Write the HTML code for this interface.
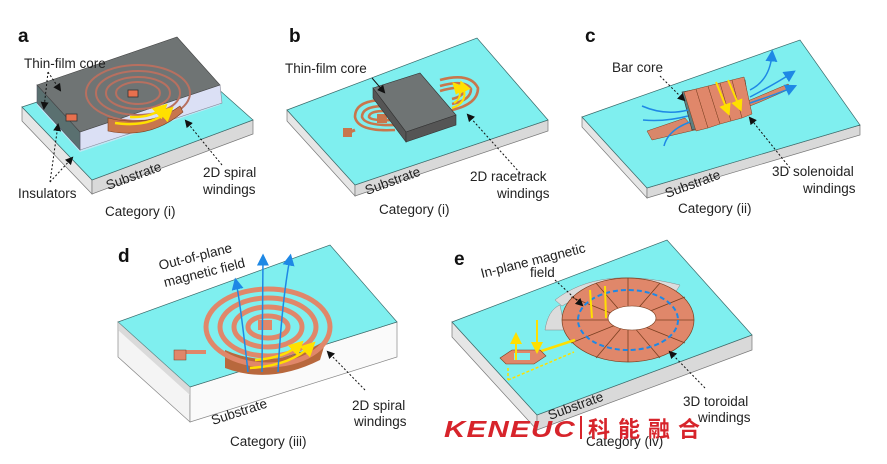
<!DOCTYPE html>
<html><head><meta charset="utf-8"><style>
html,body{margin:0;padding:0;background:#fff;}
svg{display:block;font-family:"Liberation Sans",Arial,sans-serif;}
.lbl{font-size:13.5px;fill:#222;}
.big{font-size:19px;font-weight:bold;fill:#111;}
.dash{stroke:#111;stroke-width:1;stroke-dasharray:2,2;fill:none;}
</style></head><body>
<svg width="887" height="464" viewBox="0 0 887 464">
<defs>
<marker id="ah" markerWidth="8" markerHeight="8" refX="6" refY="4" orient="auto"><path d="M0,0 L8,4 L0,8z" fill="#111"/></marker>
<marker id="bh" markerWidth="8" markerHeight="8" refX="5" refY="4" orient="auto"><path d="M0,0 L8,4 L0,8z" fill="#1e88e5"/></marker>
<marker id="yh" markerWidth="6" markerHeight="6" refX="4" refY="3" orient="auto"><path d="M0,0 L6,3 L0,6z" fill="#ffe000"/></marker>
</defs>

<!-- ===== Panel a ===== -->
<polygon points="22,107 92,180 92,194 22,121" fill="#e6e6e6" stroke="#777" stroke-width="0.7"/>
<polygon points="92,180 253,120 253,134 92,194" fill="#d9d9d9" stroke="#777" stroke-width="0.7"/>
<polygon points="22,107 180,55 253,120 92,180" fill="#7fefef" stroke="#3a6a6a" stroke-width="0.7"/>
<polygon points="37,85 80,132 220,85 220,105 80,152 37,105" fill="#cfe6f5" opacity="0.8"/>
<polygon points="80,132 220,85 222,103 80,150" fill="#dbe0f5" stroke="#889" stroke-width="0.6"/>
<polygon points="37,85 80,132 80,150 37,103" fill="#5a7070" stroke="#556" stroke-width="0.6"/>
<polygon points="37,85 177,37 220,85 80,132" fill="#6f7474" stroke="#444" stroke-width="0.6"/>
<g fill="none" stroke="#b77060" stroke-width="2">
<ellipse cx="138" cy="93" rx="52" ry="28"/><ellipse cx="138" cy="93" rx="42" ry="22"/><ellipse cx="138" cy="93" rx="32" ry="16"/><ellipse cx="138" cy="93" rx="22" ry="11"/>
</g>
<path d="M108,118 Q150,128 180,106 L183,112 Q150,140 108,131z" fill="#c8764c" stroke="#7a3f20" stroke-width="0.6"/>
<path d="M115,123 Q150,128 170,110" stroke="#ffe000" stroke-width="2.5" fill="none" marker-end="url(#yh)"/>
<path d="M130,117 Q152,118 164,107" stroke="#ffe000" stroke-width="2.5" fill="none" marker-end="url(#yh)"/>
<rect x="128" y="90" width="10" height="7" fill="#e8704e" stroke="#333" stroke-width="0.8"/>
<rect x="66" y="114" width="11" height="7" fill="#e8704e" stroke="#333" stroke-width="0.8"/>
<text x="18" y="42" class="big">a</text>
<text x="24" y="68" class="lbl">Thin-film core</text>
<path d="M48,72 L60,90" class="dash" marker-end="url(#ah)"/>
<path d="M48,72 L44,108" class="dash" marker-end="url(#ah)"/>
<path d="M50,182 L58,125" class="dash" marker-end="url(#ah)"/>
<path d="M50,182 L72,158" class="dash" marker-end="url(#ah)"/>
<text x="18" y="198" class="lbl">Insulators</text>
<text x="108" y="190" class="lbl" transform="rotate(-20 108 190)">Substrate</text>
<text x="203" y="177" class="lbl">2D spiral</text>
<text x="203" y="194" class="lbl">windings</text>
<path d="M222,165 L186,121" class="dash" marker-end="url(#ah)"/>
<text x="105" y="216" class="lbl">Category (i)</text>

<!-- ===== Panel b ===== -->
<polygon points="287,110 355,185 355,196 287,121" fill="#e6e6e6" stroke="#777" stroke-width="0.7"/>
<polygon points="355,185 548,120 548,131 355,196" fill="#d9d9d9" stroke="#777" stroke-width="0.7"/>
<polygon points="287,110 477,38 548,120 355,185" fill="#7fefef" stroke="#3a6a6a" stroke-width="0.7"/>
<g fill="none" stroke="#c8764c" stroke-width="2.6">
<path d="M385,100 Q355,100 355,117 Q358,132 395,130"/><path d="M385,106 Q362,106 362,117 Q365,126 395,125"/><path d="M385,111 Q369,111 369,117 Q371,121 395,120"/>
<path d="M440,80 Q470,72 478,88 Q478,104 452,110"/><path d="M440,86 Q465,79 471,89 Q471,100 452,104"/><path d="M440,91 Q460,85 464,90 Q464,96 452,99"/>
</g>
<line x1="355" y1="130" x2="350" y2="132" stroke="#c8764c" stroke-width="3"/>
<rect x="343" y="128" width="9" height="9" fill="#c8764c"/>
<rect x="377" y="114" width="10" height="9" fill="#c8764c"/>
<polygon points="373,88 420,73 456,115 406,132" fill="#6f7474" stroke="#333" stroke-width="0.6"/>
<polygon points="373,88 406,132 406,142 373,98" fill="#555" stroke="#333" stroke-width="0.6"/>
<polygon points="406,132 456,115 456,125 406,142" fill="#555" stroke="#333" stroke-width="0.6"/>
<path d="M452,108 Q470,102 462,84" stroke="#ffe000" stroke-width="2" fill="none" marker-end="url(#yh)"/>
<path d="M454,103 Q465,96 455,85" stroke="#ffe000" stroke-width="2" fill="none" marker-end="url(#yh)"/>
<text x="289" y="42" class="big">b</text>
<text x="285" y="73" class="lbl">Thin-film core</text>
<path d="M372,78 L384,92" stroke="#111" fill="none" marker-end="url(#ah)"/>
<path d="M520,173 L468,115" class="dash" marker-end="url(#ah)"/>
<text x="470" y="181" class="lbl">2D racetrack</text>
<text x="497" y="198" class="lbl">windings</text>
<text x="367" y="195" class="lbl" transform="rotate(-20 367 195)">Substrate</text>
<text x="379" y="214" class="lbl">Category (i)</text>

<!-- ===== Panel c ===== -->
<polygon points="582,117 647,188 647,198 582,127" fill="#e6e6e6" stroke="#777" stroke-width="0.7"/>
<polygon points="647,188 860,125 860,135 647,198" fill="#d9d9d9" stroke="#777" stroke-width="0.7"/>
<polygon points="582,117 800,40 860,125 647,188" fill="#7fefef" stroke="#3a6a6a" stroke-width="0.7"/>
<polygon points="647,131 685,118 690,124 755,98 788,84 792,88 760,102 705,124 695,130 652,140" fill="#d9876a" stroke="#7a3f20" stroke-width="0.5"/>
<polygon points="682,92 745,80 750,112 692,130" fill="#5c7f80" stroke="#333" stroke-width="0.6"/>
<g fill="#e0876a" stroke="#7a3f20" stroke-width="0.5">
<polygon points="684,92 696,89 708,128 696,131"/><polygon points="696,89 708,86 720,124 708,128"/>
<polygon points="708,86 720,83 731,121 720,124"/><polygon points="720,83 732,80 742,118 731,121"/>
<polygon points="732,80 744,77 752,114 742,118"/>
</g>
<path d="M716,82 L728,112" stroke="#ffe000" stroke-width="2" marker-end="url(#yh)"/>
<path d="M728,80 L740,108" stroke="#ffe000" stroke-width="2" marker-end="url(#yh)"/>
<g stroke="#1e88e5" stroke-width="1.5" fill="none">
<path d="M750,90 Q770,80 772,54" marker-end="url(#bh)"/>
<path d="M750,97 Q775,84 792,73" marker-end="url(#bh)"/>
<path d="M750,103 Q780,93 793,87" marker-end="url(#bh)"/>
<path d="M688,110 Q665,116 642,106"/><path d="M688,116 Q665,122 643,120"/><path d="M690,122 Q668,130 664,146"/>
</g>
<text x="585" y="42" class="big">c</text>
<text x="612" y="72" class="lbl">Bar core</text>
<path d="M660,76 L684,100" class="dash" marker-end="url(#ah)"/>
<path d="M790,168 L750,118" class="dash" marker-end="url(#ah)"/>
<text x="772" y="176" class="lbl">3D solenoidal</text>
<text x="803" y="193" class="lbl">windings</text>
<text x="667" y="198" class="lbl" transform="rotate(-20 667 198)">Substrate</text>
<text x="678" y="213" class="lbl">Category (ii)</text>

<!-- ===== Panel d ===== -->
<polygon points="118,322 190,387 190,422 118,357" fill="#f4f4f4" stroke="#888" stroke-width="0.7"/>
<polygon points="190,387 397,322 397,357 190,422" fill="#fafafa" stroke="#888" stroke-width="0.7"/>
<polygon points="118,322 330,245 397,322 190,387" fill="#7fefef" stroke="#3a6a6a" stroke-width="0.7"/>
<polygon points="118,322 190,387 190,395 118,330" fill="#cfcfcf" opacity="0.7"/>
<path d="M225,368 Q270,385 320,360 L326,340 Q275,372 225,350z" fill="#b8683d"/>
<g fill="none" stroke="#e0876a" stroke-width="5">
<ellipse cx="268" cy="327" rx="62" ry="38"/><ellipse cx="268" cy="327" rx="48" ry="29"/><ellipse cx="268" cy="327" rx="34" ry="20"/><ellipse cx="268" cy="327" rx="20" ry="11"/>
</g>
<rect x="258" y="320" width="14" height="10" fill="#e0876a"/>
<path d="M206,352 L180,352" stroke="#e0876a" stroke-width="4"/>
<rect x="174" y="350" width="12" height="10" fill="#e0876a" stroke="#7a3f20" stroke-width="0.5"/>
<path d="M250,368 Q290,366 312,345" stroke="#ffe000" stroke-width="2.5" fill="none" marker-end="url(#yh)"/>
<path d="M255,360 Q285,358 300,344" stroke="#ffe000" stroke-width="2.5" fill="none" marker-end="url(#yh)"/>
<g stroke="#1e88e5" stroke-width="1.5" fill="none">
<path d="M262,372 L263,258" marker-end="url(#bh)"/>
<path d="M248,372 Q240,300 236,282" marker-end="url(#bh)"/>
<path d="M278,372 Q282,300 290,258" marker-end="url(#bh)"/>
</g>
<text x="118" y="262" class="big">d</text>
<text x="160" y="270" class="lbl" transform="rotate(-14 160 270)">Out-of-plane</text>
<text x="165" y="287" class="lbl" transform="rotate(-14 165 287)">magnetic field</text>
<path d="M365,390 L328,352" class="dash" marker-end="url(#ah)"/>
<text x="352" y="410" class="lbl">2D spiral</text>
<text x="354" y="426" class="lbl">windings</text>
<text x="213" y="425" class="lbl" transform="rotate(-18 213 425)">Substrate</text>
<text x="230" y="446" class="lbl">Category (iii)</text>

<!-- ===== Panel e ===== -->
<polygon points="452,322 537,415 537,430 452,337" fill="#e6e6e6" stroke="#777" stroke-width="0.7"/>
<polygon points="537,415 752,335 752,350 537,430" fill="#d9d9d9" stroke="#777" stroke-width="0.7"/>
<polygon points="452,322 667,240 752,335 537,415" fill="#7fefef" stroke="#3a6a6a" stroke-width="0.7"/>
<path d="M555,300 Q600,265 680,285 L675,293 Q610,275 562,306z" fill="#dcdcdc" stroke="#888" stroke-width="0.5"/>
<path d="M545,330 Q548,310 560,305 L565,330z" fill="#dcdcdc" stroke="#888" stroke-width="0.5"/>
<ellipse cx="628" cy="320" rx="66" ry="42" fill="#e0876a" stroke="#7a3f20" stroke-width="0.7"/>
<g stroke="#7a3f20" stroke-width="0.8">
<line x1="628" y1="320" x2="628" y2="278"/><line x1="628" y1="320" x2="660" y2="283"/><line x1="628" y1="320" x2="685" y2="297"/>
<line x1="628" y1="320" x2="694" y2="320"/><line x1="628" y1="320" x2="685" y2="343"/><line x1="628" y1="320" x2="660" y2="358"/>
<line x1="628" y1="320" x2="628" y2="362"/><line x1="628" y1="320" x2="596" y2="358"/><line x1="628" y1="320" x2="571" y2="343"/>
<line x1="628" y1="320" x2="562" y2="320"/><line x1="628" y1="320" x2="571" y2="297"/><line x1="628" y1="320" x2="596" y2="283"/>
</g>
<ellipse cx="632" cy="318" rx="24" ry="12" fill="#fff" stroke="#7a3f20" stroke-width="0.6"/>
<ellipse cx="628" cy="320" rx="50" ry="30" fill="none" stroke="#1e88e5" stroke-width="2" stroke-dasharray="5,3"/>
<path d="M520,358 L575,340" stroke="#ffe000" stroke-width="2.5"/>
<polygon points="500,358 512,350 540,350 546,356 534,364 506,364" fill="#e0876a" stroke="#7a3f20" stroke-width="0.6"/>
<rect x="514" y="353" width="16" height="7" fill="#7fefef"/>
<path d="M516,360 L516,336" stroke="#ffe000" stroke-width="2" marker-end="url(#yh)"/>
<path d="M537,320 L537,350" stroke="#ffe000" stroke-width="2" marker-end="url(#yh)"/>
<path d="M508,380 L574,352" stroke="#ffe000" stroke-width="1.5" stroke-dasharray="3,2"/>
<path d="M508,368 L508,380" stroke="#ffe000" stroke-width="1.5" stroke-dasharray="3,2"/>
<path d="M590,290 L592,318 M605,286 L606,318" stroke="#ffe000" stroke-width="2"/>
<text x="454" y="265" class="big">e</text>
<text x="482" y="278" class="lbl" transform="rotate(-14 482 278)">In-plane magnetic</text>
<text x="530" y="277" class="lbl">field</text>
<path d="M555,280 L582,305" class="dash" marker-end="url(#ah)"/>
<path d="M705,388 L670,352" class="dash" marker-end="url(#ah)"/>
<text x="683" y="406" class="lbl">3D toroidal</text>
<text x="698" y="422" class="lbl">windings</text>
<text x="550" y="420" class="lbl" transform="rotate(-20 550 420)">Substrate</text>
<text x="586" y="446" class="lbl">Category (iv)</text>

<!-- logo -->
<text x="444" y="437" font-size="23" font-weight="bold" font-style="italic" fill="#d7242b" letter-spacing="1" textLength="132" lengthAdjust="spacingAndGlyphs">KENEUC</text>
<rect x="580" y="416" width="2" height="23" fill="#d7242b"/>
<text x="588" y="437" font-size="22" font-weight="bold" fill="#d7242b" font-family="'Noto Sans CJK SC','WenQuanYi Zen Hei',sans-serif" letter-spacing="8">科能融合</text>
</svg>
</body></html>
